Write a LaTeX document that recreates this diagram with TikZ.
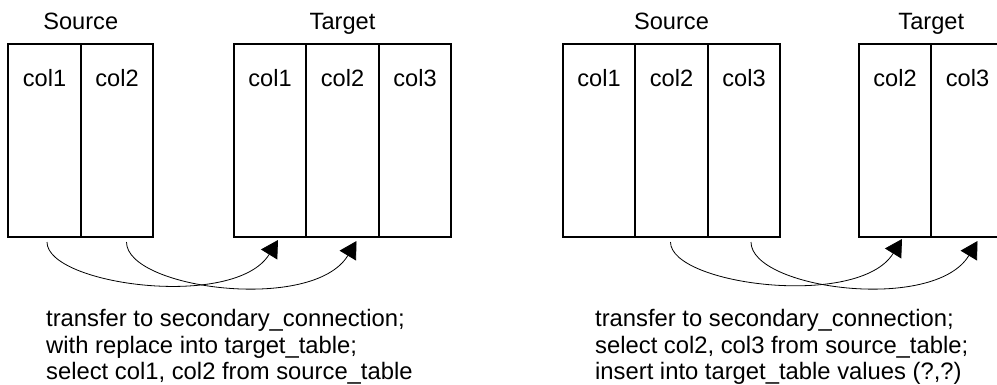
\documentclass[tikz,border=0pt]{standalone}
\usepackage{fontspec}
\setmainfont{Liberation Sans}
\usetikzlibrary{positioning,arrows.meta}

\begin{document}
\begin{tikzpicture}[x=1pt,y=-1pt,
    cell/.style={draw,line width=1.6pt,minimum width=72.5pt,minimum height=193pt,inner sep=0pt,outer sep=0pt},
    colname/.style={anchor=base,inner sep=0pt,font=\fontsize{23.6}{27}\selectfont},
    title/.style={anchor=base,inner sep=0pt,font=\fontsize{23.6}{27}\selectfont},
    note/.style={anchor=north west,align=left,inner sep=0pt,font=\fontsize{23.8}{26.5}\selectfont},
    flow/.style={line width=0.8pt,-{Triangle[length=17pt,width=19pt]}}]
  \useasboundingbox (0,0) rectangle (997,384);

  % left: replace into
  \node[cell] (s1) at (44.5,140.5) {};
  \node[cell,right=0pt of s1] (s2) {};
  \node[cell] (t1) at (270,140.5) {};
  \node[cell,right=0pt of t1] (t2) {};
  \node[cell,right=0pt of t2] (t3) {};

  % right: insert into
  \node[cell] (rs1) at (599,140.5) {};
  \node[cell,right=0pt of rs1] (rs2) {};
  \node[cell,right=0pt of rs2] (rs3) {};
  \node[cell] (rt2) at (895,140.5) {};
  \node[cell,right=0pt of rt2] (rt3) {};

  \foreach \c/\t in {s1/col1,s2/col2,t1/col1,t2/col2,t3/col3,
                     rs1/col1,rs2/col2,rs3/col3,rt2/col2,rt3/col3}
    \node[colname] (n\c) at ([yshift=-42pt]\c.north) {\t};

  \node[title] (srcl) at ([yshift=15pt]s1.north east) {Source};
  \node[title] (tgtl) at ([yshift=15pt]t2.north) {Target};
  \node[title] (srcr) at ([yshift=15pt]rs2.north) {Source};
  \node[title] (tgtr) at ([yshift=15pt]rt2.north east) {Target};

  \coordinate (a1) at ([shift={(2.5,5)}]s1.south);
  \coordinate (a1e) at ([shift={(8,3)}]t1.south);
  \coordinate (a2) at ([shift={(9.5,5)}]s2.south);
  \coordinate (a2e) at ([shift={(14,4)}]t2.south);
  \coordinate (b1) at ([shift={(-1,5)}]rs2.south);
  \coordinate (b1e) at ([shift={(7,2)}]rt2.south);
  \coordinate (b2) at ([shift={(7,5)}]rs3.south);
  \coordinate (b2e) at ([shift={(10,4)}]rt3.south);

  \begin{scope}[flow]
    \draw (a1) .. controls +(0,43) and +(-43,70) .. (a1e);
    \draw (a2) .. controls +(0,47) and +(-43,72) .. (a2e);
    \draw (b1) .. controls +(0,43) and +(-43,70) .. (b1e);
    \draw (b2) .. controls +(0,47) and +(-43,72) .. (b2e);
  \end{scope}

  \node[note] (lnote) at (46,309.5) {transfer to secondary\_connection;\\with replace into target\_table;\\select col1, col2 from source\_table};
  \node[note] (rnote) at (595,309.5) {transfer to secondary\_connection;\\select col2, col3 from source\_table;\\insert into target\_table values (?,?)};
\end{tikzpicture}
\end{document}
